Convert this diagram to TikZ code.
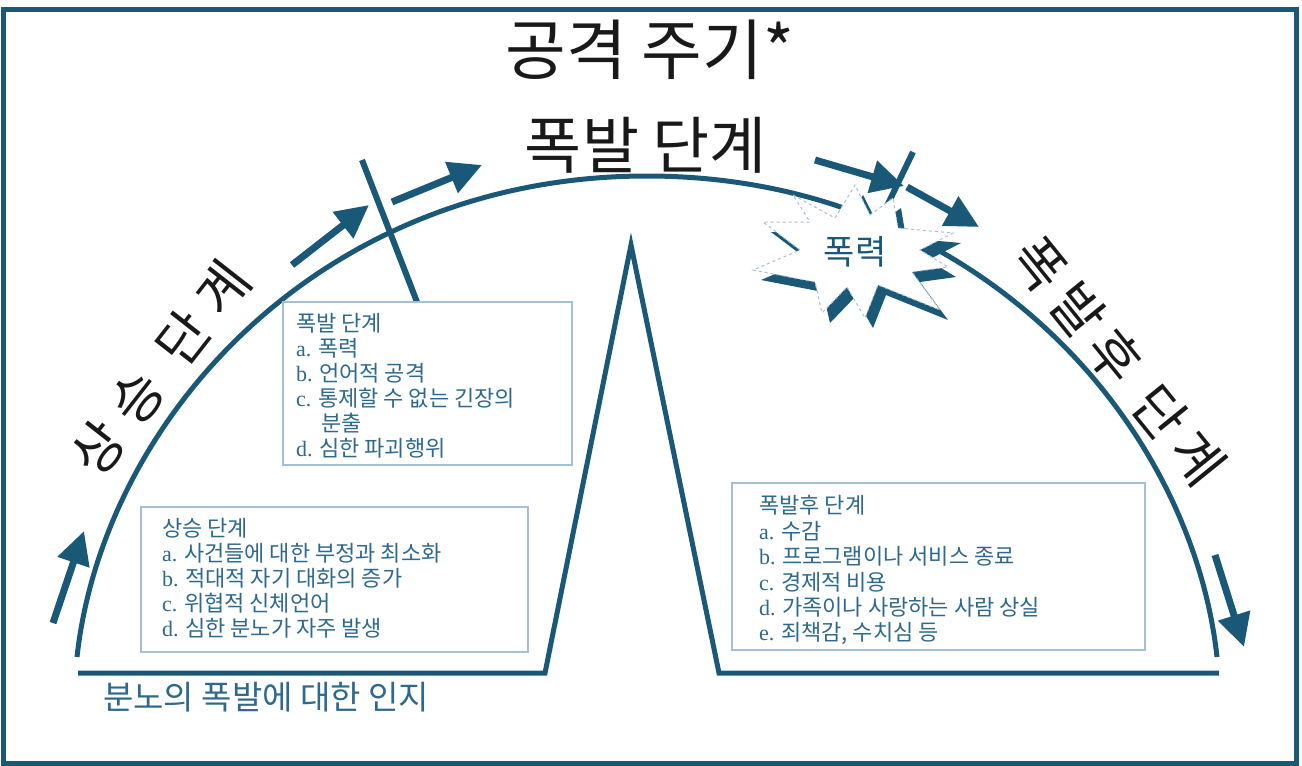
\documentclass[tikz,border=0pt]{standalone}
\usepackage{fontspec}
\setmainfont{Noto Sans CJK KR}
\newfontfamily\latf{Liberation Serif}
\usetikzlibrary{arrows.meta}
\definecolor{teal1}{RGB}{25,88,118}
\definecolor{tealtext}{RGB}{45,105,140}
\definecolor{boxc}{RGB}{165,192,210}
\definecolor{ink}{RGB}{25,25,25}
\tikzset{
  mainline/.style={draw=teal1,line width=5pt},
  bigarrow/.style={draw=teal1,line width=7pt,-{Triangle[length=33pt,width=32pt]},fill=teal1},
  divider/.style={draw=teal1,line width=6pt},
  infobox/.style={draw=boxc,line width=1.4pt},
  boxtext/.style={anchor=base west,inner sep=0pt,text=tealtext,font=\fontsize{22}{25}\selectfont},
  biglabel/.style={inner sep=0pt,text=ink},
}
\begin{document}
\begin{tikzpicture}[x=1pt,y=-1pt]
\useasboundingbox (0,0) rectangle (1302,766);
% frame
\draw[teal1,line width=5pt] (3,9) rectangle (1296,763);
% titles
\node[biglabel,font=\fontsize{66}{66}\selectfont] (title) at (650,50) {공격 주기*};
\node[biglabel,font=\fontsize{62}{62}\selectfont] (burst) at (646,145) {폭발 단계};
\node[biglabel,font=\fontsize{54}{54}\selectfont,rotate=52] (rise) at (160,368) {상\kern14pt 승\kern14pt\ 단\kern14pt 계};
\node[biglabel,font=\fontsize{54}{54}\selectfont,rotate=-51] (post) at (1119,361) {폭\kern10pt 발\kern10pt 후\kern10pt\ 단\kern10pt 계};
% arc
\draw[mainline] (77,657) .. controls (103,420) and (320,176) .. (647,176)
                         .. controls (974,176) and (1191,420) .. (1217,657);
% baseline with peak
\draw[mainline,line join=miter] (78,673) -- (545,673) -- (631,245) -- (719,673) -- (1219,673);
% arrows
\coordinate (a1s) at (53,623); \coordinate (a1e) at (84,531);
\coordinate (a2s) at (292,265); \coordinate (a2e) at (369,205);
\coordinate (a3s) at (392,202); \coordinate (a3e) at (482,165);
\coordinate (a4s) at (815,160); \coordinate (a4e) at (904,186);
\coordinate (a5s) at (907,187); \coordinate (a5e) at (979,227);
\coordinate (a6s) at (1215,555); \coordinate (a6e) at (1244,647);
\draw[bigarrow] (a1s) -- (a1e);
\draw[bigarrow] (a2s) -- (a2e);
\draw[bigarrow] (a3s) -- (a3e);
\draw[bigarrow] (a4s) -- (a4e);
\draw[bigarrow] (a5s) -- (a5e);
\draw[bigarrow] (a6s) -- (a6e);
% dividers
\coordinate (d1a) at (362,160); \coordinate (d1b) at (417,302);
\coordinate (d2a) at (913,152); \coordinate (d2b) at (886,208);
\draw[divider] (d1a) -- (d1b);
\draw[divider] (d2a) -- (d2b);
% explosion
\def\starpath{(793,195) -- (835,218) -- (855,185) -- (870,215) -- (893,198) -- (898,228) -- (953,233) -- (920,250) -- (948,267) -- (912,272) -- (940,310) -- (878,285) -- (865,318) -- (847,287) -- (822,313) -- (815,282) -- (753,270) -- (800,250) -- (763,222) -- (810,222) -- cycle}
\begin{scope}[shift={(8,10)}]
\fill[teal1] \starpath;
\end{scope}
\filldraw[fill=white,draw=boxc,line width=1pt,dashed] \starpath;
\node[inner sep=0pt,text=teal1,font=\fontsize{34}{34}\selectfont] (viol) at (855,252) {폭력};
% boxes
\draw[infobox] (283,302) rectangle (572,465);
\draw[infobox] (141,507) rectangle (528,652);
\draw[infobox] (732,483) rectangle (1145,650);
% top box text
\node[boxtext] (t0) at (296,331) {폭발 단계};
\node[boxtext] (t1) at (296,356) {{\latf a.} 폭력};
\node[boxtext] (t2) at (296,381) {{\latf b.} 언어적 공격};
\node[boxtext] (t3) at (296,406) {{\latf c.} 통제할 수 없는 긴장의};
\node[boxtext] (t3b) at (321,431) {분출};
\node[boxtext] (t4) at (296,456) {{\latf d.} 심한 파괴행위};
% left box text
\node[boxtext] (l0) at (162,536) {상승 단계};
\node[boxtext] (l1) at (162,561) {{\latf a.} 사건들에 대한 부정과 최소화};
\node[boxtext] (l2) at (162,586) {{\latf b.} 적대적 자기 대화의 증가};
\node[boxtext] (l3) at (162,611) {{\latf c.} 위협적 신체언어};
\node[boxtext] (l4) at (162,636) {{\latf d.} 심한 분노가 자주 발생};
% right box text
\node[boxtext] (r0) at (759,513) {폭발후 단계};
\node[boxtext] (r1) at (759,539) {{\latf a.} 수감};
\node[boxtext] (r2) at (759,564) {{\latf b.} 프로그램이나 서비스 종료};
\node[boxtext] (r3) at (759,590) {{\latf c.} 경제적 비용};
\node[boxtext] (r4) at (759,615) {{\latf d.} 가족이나 사랑하는 사람 상실};
\node[boxtext] (r5) at (759,640) {{\latf e.} 죄책감, 수치심 등};
% bottom label
\node[anchor=west,inner sep=0pt,text=tealtext,font=\fontsize{33}{33}\selectfont] (aware) at (103,697) {분노의 폭발에 대한 인지};
\end{tikzpicture}
\end{document}
